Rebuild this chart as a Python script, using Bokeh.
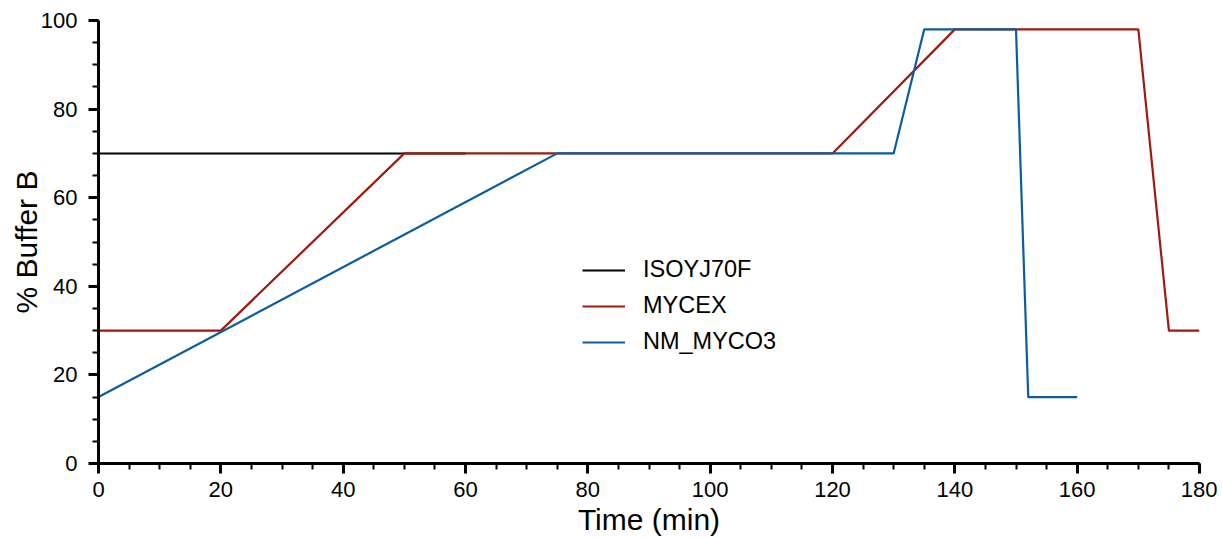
from bokeh.plotting import figure
from bokeh.models import Range1d, Legend, LegendItem, FixedTicker
from bokeh.embed import file_html
from bokeh.resources import INLINE

# Data
iso_x = [0, 60]
iso_y = [70, 70]
mycex_x = [0, 20, 50, 120, 140, 170, 175, 180]
mycex_y = [30, 30, 70, 70, 98, 98, 30, 30]
nm_x = [0, 75, 130, 135, 150, 152, 160]
nm_y = [15, 70, 70, 98, 98, 15, 15]
series_names = ["ISOYJ70F", "MYCEX", "NM_MYCO3"]
x_ticks = [0, 20, 40, 60, 80, 100, 120, 140, 160, 180]
y_ticks = [0, 20, 40, 60, 80, 100]

FONT = "Liberation Sans"

p = figure(output_backend="svg", toolbar_location=None,
           frame_width=1101, frame_height=443,
           min_border_left=98, min_border_top=20, min_border_right=18, min_border_bottom=60,
           x_range=Range1d(0, 180), y_range=Range1d(0, 100))
p.outline_line_color = None
p.xgrid.visible = False
p.ygrid.visible = False

r1 = p.line(iso_x, iso_y, line_color="#000000", line_width=2)
r2 = p.line(mycex_x, mycex_y, line_color="#a01a0c", line_width=2.2)
r3 = p.line(nm_x, nm_y, line_color="#0a5da0", line_width=2.2)

for ax, ticks in ((p.xaxis[0], x_ticks), (p.yaxis[0], y_ticks)):
    ax.ticker = FixedTicker(ticks=ticks, minor_ticks=list(range(0, 181, 5)))
    ax.axis_line_width = 3
    ax.axis_line_color = "black"
    ax.major_tick_line_width = 3
    ax.major_tick_out = 10
    ax.major_tick_in = 0
    ax.minor_tick_line_width = 2
    ax.minor_tick_out = 6
    ax.minor_tick_in = 0
    ax.major_label_text_font = FONT
    ax.major_label_text_font_size = "22px"
    ax.major_label_text_color = "black"
    ax.axis_label_text_font = FONT
    ax.axis_label_text_font_size = "30px"
    ax.axis_label_text_font_style = "normal"
    ax.axis_label_text_color = "black"

p.xaxis.axis_label = "Time (min)"
p.yaxis.axis_label = "% Buffer B"
p.xaxis.major_label_standoff = 8
p.xaxis.axis_label_standoff = 3
p.yaxis.major_label_standoff = 11
p.yaxis.axis_label_standoff = -5

legend = Legend(items=[LegendItem(label=series_names[0], renderers=[r1]),
                       LegendItem(label=series_names[1], renderers=[r2]),
                       LegendItem(label=series_names[2], renderers=[r3])],
                location=(484, 108), margin=0, padding=0,
                border_line_color=None, background_fill_alpha=0,
                glyph_width=43, glyph_height=20, label_height=20,
                label_standoff=18, spacing=9,
                label_text_font=FONT, label_text_font_size="23.5px",
                label_text_color="black")
p.add_layout(legend, "center")

open("out.html", "w").write(file_html(p, INLINE))
